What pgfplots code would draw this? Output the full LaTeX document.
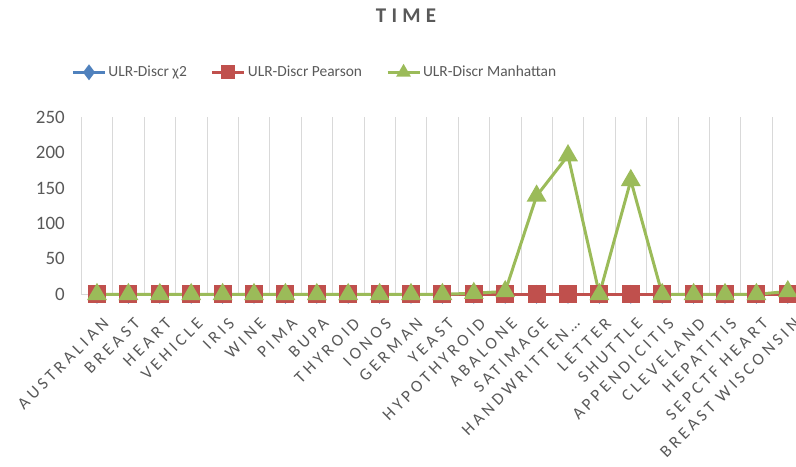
\documentclass[border=0pt]{standalone}
\usepackage{fontspec}
\setmainfont{Carlito}
\newfontfamily\tickfont[LetterSpace=22]{Carlito}
\newfontfamily\titlefont[LetterSpace=25]{Carlito}
\usepackage{pgfplots}
\pgfplotsset{compat=1.18}

\definecolor{txt}{HTML}{595959}
\definecolor{gridgray}{HTML}{D9D9D9}
\definecolor{sblue}{HTML}{4F81BD}
\definecolor{sred}{HTML}{C0504D}
\definecolor{sgreen}{HTML}{9BBB59}

\begin{document}
\begin{tikzpicture}
\useasboundingbox (0,0) rectangle (796bp,-467bp);
\node[font=\titlefont\bfseries\fontsize{21}{21}\selectfont, text=txt] at (406bp,-15.5bp) {TIME};
\begin{axis}[
  scale only axis,
  width=722.2bp, height=177bp,
  at={(81.3bp,-294.3bp)}, anchor=south west,
  xmin=-0.5, xmax=22.5, ymin=0, ymax=250,
  clip=false,
  axis line style={draw=none},
  major tick length=0pt, minor tick length=0pt,
  xtick={0,...,22},
  xticklabels={AUSTRALIAN,BREAST,HEART,VEHICLE,IRIS,WINE,PIMA,BUPA,THYROID,IONOS,GERMAN,YEAST,HYPOTHYROID,ABALONE,SATIMAGE,HANDWRITTEN…,LETTER,SHUTTLE,APPENDICITIS,CLEVELAND,HEPATITIS,SEPCTF HEART,BREAST WISCONSIN},
  minor xtick={-0.5,0.5,...,21.5},
  xminorgrids=true,
  minor grid style={draw=gridgray, line width=0.75bp},
  ytick={0,50,...,250},
  /pgf/number format/assume math mode=true,
  yticklabel style={font=\fontsize{19}{19}\selectfont, text=txt, anchor=east, xshift=-13bp},
  xticklabel style={font=\tickfont\fontsize{17}{17}\selectfont, text=txt, rotate=45, anchor=east, yshift=-25bp, xshift=-9bp},
  legend style={at={(0,1)}, anchor=west, xshift=-13bp, yshift=45bp, draw=none, fill=none,
    font=\fontsize{15.5}{15.5}\selectfont, text=txt,
    /tikz/every even column/.append style={column sep=22bp},
    nodes={inner xsep=2bp}},
  legend columns=3,
  legend image code/.code={
    \draw[mark repeat=2, mark phase=2, mark size=5.5bp] plot coordinates {(0bp,0bp) (16bp,0bp) (32bp,0bp)};
  },
]
% baseline of the value axis
\draw[gridgray, line width=0.75bp] (axis cs:-0.5,0) -- (axis cs:22.5,0);

\addplot[color=sblue, line width=3bp, mark=diamond*, mark size=7bp, mark options={solid}]
  coordinates {(0,0)(1,0)(2,0)(3,0)(4,0)(5,0)(6,0)(7,0)(8,0)(9,0)(10,0)(11,0)(12,0)(13,0)(14,0)(15,0)(16,0)(17,0)(18,0)(19,0)(20,0)(21,0)(22,0)};
\addlegendentry{ULR-Discr χ2}

\addplot[color=sred, line width=3bp, mark=square*, mark size=7.5bp, mark options={solid}]
  coordinates {(0,0)(1,0)(2,0)(3,0)(4,0)(5,0)(6,0)(7,0)(8,0)(9,0)(10,0)(11,0)(12,0)(13,0)(14,0)(15,0)(16,0)(17,0)(18,0)(19,0)(20,0)(21,0)(22,0)};
\addlegendentry{ULR-Discr Pearson}

\addplot[color=sgreen, line width=3bp, mark=triangle*, mark size=8.5bp, mark options={solid}]
  coordinates {(0,0)(1,0)(2,0)(3,0)(4,0)(5,0)(6,0)(7,0)(8,0)(9,0)(10,0)(11,0)(12,1.5)(13,4)(14,139)(15,196)(16,0)(17,161)(18,0)(19,0)(20,0)(21,0)(22,4)};
\addlegendentry{ULR-Discr Manhattan}
\end{axis}
\end{tikzpicture}
\end{document}
